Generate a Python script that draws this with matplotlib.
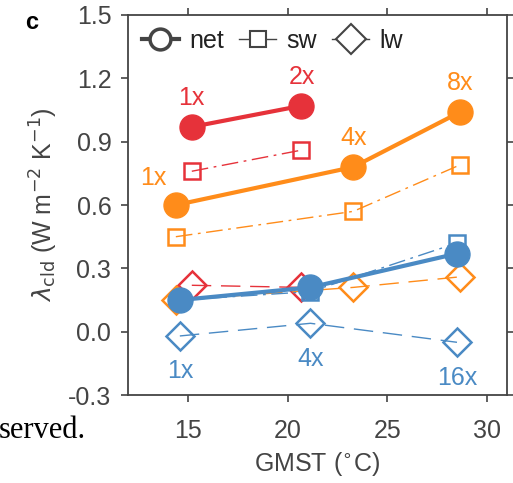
import matplotlib.pyplot as plt

plt.rcParams['font.family'] = ['Liberation Sans', 'DejaVu Sans']

# GMST (deg C) per run, and lambda_cld (W m-2 K-1) for net / sw / lw
red_x = [15.2, 20.7]
red_net = [0.97, 1.07]
red_sw = [0.76, 0.86]
red_lw = [0.22, 0.21]
red_lab = ['1x', '2x']

orange_x = [14.4, 23.3, 28.65]
orange_net = [0.60, 0.78, 1.04]
orange_sw = [0.45, 0.57, 0.79]
orange_lw = [0.15, 0.21, 0.26]
orange_lab = ['1x', '4x', '8x']

blue_x = [14.6, 21.15, 28.5]
blue_net = [0.15, 0.21, 0.37]
blue_sw = [0.15, 0.19, 0.42]
blue_lw = [-0.02, 0.04, -0.05]
blue_lab = ['1x', '4x', '16x']

xticks = [15, 20, 25, 30]
yticks = [-0.3, 0.0, 0.3, 0.6, 0.9, 1.2, 1.5]

c_red = '#E6323A'
c_orange = '#FF8C1A'
c_blue = '#4A8AC4'
grey = '#444444'

fig = plt.figure(figsize=(5.13, 4.83), dpi=100)
ax = fig.add_axes([0.2495, 0.182, 0.7385, 0.787])

def draw(x, net, sw, lw, col):
    ax.plot(x, lw, color=col, lw=1.0, ls=(0, (14, 7)), marker='D', ms=14,
            mfc='white', mec=col, mew=1.8, fillstyle='none')
    ax.plot(x, sw, color=col, lw=1.0, ls=(0, (12, 4, 2, 4)), marker='s', ms=12,
            mfc='none', mec=col, mew=1.8)
    ax.plot(x, net, color=col, lw=3, marker='o', ms=18, mfc=col, mec=col)

draw(red_x, red_net, red_sw, red_lw, c_red)
draw(orange_x, orange_net, orange_sw, orange_lw, c_orange)
draw(blue_x, blue_net, blue_sw, blue_lw, c_blue)

fs = 18
# run labels
ax.text(red_x[0], red_net[0] + 0.08, red_lab[0], color=c_red, fontsize=fs, ha='center', va='bottom')
ax.text(red_x[1], red_net[1] + 0.08, red_lab[1], color=c_red, fontsize=fs, ha='center', va='bottom')
ax.text(orange_x[0] - 0.45, orange_net[0] + 0.13, orange_lab[0], color=c_orange, fontsize=fs, ha='right', va='center')
ax.text(orange_x[1], orange_net[1] + 0.08, orange_lab[1], color=c_orange, fontsize=fs, ha='center', va='bottom')
ax.text(orange_x[2], orange_net[2] + 0.08, orange_lab[2], color=c_orange, fontsize=fs, ha='center', va='bottom')
ax.text(blue_x[0], blue_lw[0] - 0.11, blue_lab[0], color=c_blue, fontsize=fs, ha='center', va='top')
ax.text(blue_x[1], blue_lw[1] - 0.11, blue_lab[1], color=c_blue, fontsize=fs, ha='center', va='top')
ax.text(blue_x[2], blue_lw[2] - 0.11, blue_lab[2], color=c_blue, fontsize=fs, ha='center', va='top')

# legend
h1, = ax.plot([], [], color=grey, lw=3, marker='o', ms=15, mfc='white', mec=grey, mew=2.5)
h2, = ax.plot([], [], color=grey, lw=1, marker='s', ms=12, mfc='white', mec=grey, mew=1.5)
h3, = ax.plot([], [], color=grey, lw=1, marker='D', ms=15, mfc='white', mec=grey, mew=1.5)
leg = ax.legend([h1, h2, h3], ['net', 'sw', 'lw'], loc='upper left', ncol=3, frameon=False,
                fontsize=fs, handlelength=1.5, handletextpad=0.4, columnspacing=0.6,
                borderaxespad=0.15, bbox_to_anchor=(0.0, 1.0))
for t in leg.get_texts():
    t.set_color('#222222')

ax.set_xlim(12, 31)
ax.set_ylim(-0.3, 1.5)
ax.set_xticks(xticks)
ax.set_yticks(yticks)
ax.set_yticklabels(['%.1f' % v for v in yticks])
ax.tick_params(direction='out', length=5, width=1.2, colors=grey, labelsize=fs,
               top=True, right=True, labeltop=False, labelright=False)
ax.tick_params(axis='x', pad=12)
ax.tick_params(axis='y', pad=7)
for s in ax.spines.values():
    s.set_color(grey)
    s.set_linewidth(1.3)

ax.set_xlabel('GMST ($^{\\circ}$C)', fontsize=fs, color=grey, labelpad=5)
ax.set_ylabel('$\\lambda_{\\rm cld}$ (W m$^{-2}$ K$^{-1}$)', fontsize=fs, color=grey, labelpad=6)

fig.text(0.062, 0.953, 'c', fontsize=17, fontweight='bold', ha='center', va='center')
fig.text(-0.003, 0.108, 'served.', fontsize=22, family=['Liberation Serif', 'DejaVu Serif'],
         ha='left', va='center')

fig.savefig('out.png', dpi=100)
